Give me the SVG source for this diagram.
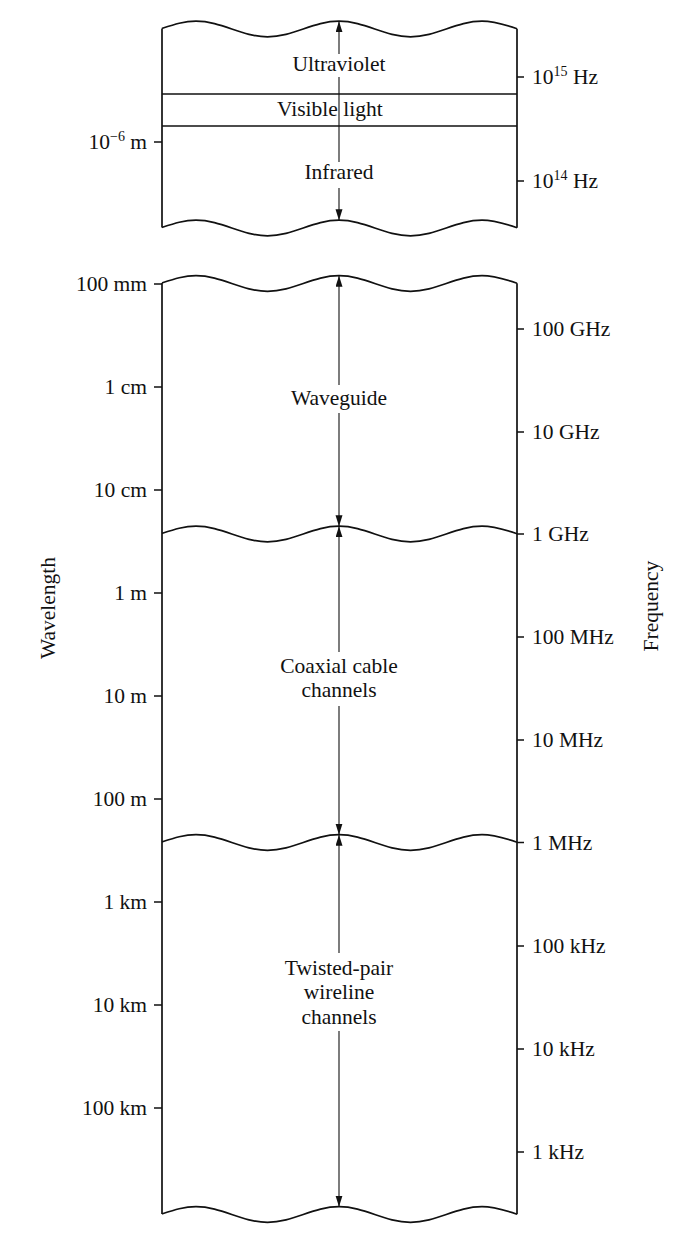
<svg xmlns="http://www.w3.org/2000/svg" width="675" height="1239" viewBox="0 0 675 1239">
<style>
.o{fill:none;stroke:#111;stroke-width:1.7}
.t{fill:none;stroke:#111;stroke-width:1.3}
.a{fill:none;stroke:#111;stroke-width:1.1}
text{font-family:"Liberation Serif","Times New Roman",serif;font-size:21.5px;fill:#111}
.m{text-anchor:middle}
.e{text-anchor:end}
</style>
<defs>
<path id="wave" class="o" d="M162,-0.6 C174,-4.5 184,-7.8 196,-7.8 C222,-7.8 241.5,7.8 267.5,7.8 C293.5,7.8 313,-7.8 339,-7.8 C365,-7.8 384.5,7.8 410.5,7.8 C436.5,7.8 456,-7.8 482,-7.8 C494,-7.8 505,-4.3 517,-0.3"/>
<marker id="ah" markerUnits="userSpaceOnUse" markerWidth="12" markerHeight="8" refX="11" refY="3.5" orient="auto">
<path d="M0,0 L11,3.5 L0,7 z" fill="#111"/>
</marker>
</defs>
<rect width="675" height="1239" fill="#fff"/>

<g id="optical-band">
<use href="#wave" y="29"/>
<use href="#wave" y="228"/>
<line class="o" x1="162" y1="28.4" x2="162" y2="227.4"/>
<line class="o" x1="517" y1="28.7" x2="517" y2="227.7"/>
<line class="o" x1="162" y1="94" x2="517" y2="94"/>
<line class="o" x1="162" y1="126" x2="517" y2="126"/>
<text class="m" x="339" y="71">Ultraviolet</text>
<text x="277" y="116">Visible light</text>
<text class="m" x="339" y="179">Infrared</text>
</g>

<g id="waveguide">
<use href="#wave" y="283.5"/>
<text class="m" x="339" y="405">Waveguide</text>
</g>

<g id="coaxial">
<use href="#wave" y="534"/>
<text class="m" x="339" y="673">Coaxial cable</text>
<text class="m" x="339" y="697">channels</text>
</g>

<g id="twisted-pair">
<use href="#wave" y="842.5"/>
<use href="#wave" y="1214.5"/>
<text class="m" x="339" y="975">Twisted-pair</text>
<text class="m" x="339" y="999">wireline</text>
<text class="m" x="339" y="1024">channels</text>
</g>

<g id="band-edges">
<line class="o" x1="162" y1="282.9" x2="162" y2="1213.9"/>
<line class="o" x1="517" y1="283.2" x2="517" y2="1214.2"/>
</g>

<g id="wavelength-axis">
<path class="t" d="M154,142H162 M154,284H162 M154,387H162 M154,490H162 M154,593H162 M154,696H162 M154,799H162 M154,902H162 M154,1005H162 M154,1108H162"/>
<text class="e" x="147" y="149">10<tspan font-size="14" dy="-8">−6</tspan><tspan dy="8"> m</tspan></text>
<text class="e" x="147" y="291">100 mm</text>
<text class="e" x="147" y="394">1 cm</text>
<text class="e" x="147" y="497">10 cm</text>
<text class="e" x="147" y="600">1 m</text>
<text class="e" x="147" y="703">10 m</text>
<text class="e" x="147" y="806">100 m</text>
<text class="e" x="147" y="909">1 km</text>
<text class="e" x="147" y="1012">10 km</text>
<text class="e" x="147" y="1115">100 km</text>
<text class="m" transform="translate(55,608) rotate(-90)">Wavelength</text>
</g>

<g id="frequency-axis">
<path class="t" d="M517,77H524 M517,181H524 M517,329H524 M517,432H524 M517,534H524 M517,637H524 M517,740H524 M517,842.5H524 M517,946H524 M517,1049H524 M517,1152H524"/>
<text x="532" y="84">10<tspan font-size="14" dy="-8">15</tspan><tspan dy="8"> Hz</tspan></text>
<text x="532" y="188">10<tspan font-size="14" dy="-8">14</tspan><tspan dy="8"> Hz</tspan></text>
<text x="532" y="336">100 GHz</text>
<text x="532" y="439">10 GHz</text>
<text x="532" y="541">1 GHz</text>
<text x="532" y="644">100 MHz</text>
<text x="532" y="747">10 MHz</text>
<text x="532" y="849.5">1 MHz</text>
<text x="532" y="953">100 kHz</text>
<text x="532" y="1056">10 kHz</text>
<text x="532" y="1159">1 kHz</text>
<text class="m" transform="translate(658,606) rotate(-90)">Frequency</text>
</g>

<g id="connectors">
<line class="a" x1="339" y1="54" x2="339" y2="21.2" marker-end="url(#ah)"/>
<line class="a" x1="339" y1="77" x2="339" y2="162"/>
<line class="a" x1="339" y1="188" x2="339" y2="220.2" marker-end="url(#ah)"/>
<line class="a" x1="339" y1="385" x2="339" y2="275.7" marker-end="url(#ah)"/>
<line class="a" x1="339" y1="413" x2="339" y2="526.2" marker-end="url(#ah)"/>
<line class="a" x1="339" y1="652" x2="339" y2="526.2" marker-end="url(#ah)"/>
<line class="a" x1="339" y1="706" x2="339" y2="834.7" marker-end="url(#ah)"/>
<line class="a" x1="339" y1="953" x2="339" y2="834.7" marker-end="url(#ah)"/>
<line class="a" x1="339" y1="1031" x2="339" y2="1206.7" marker-end="url(#ah)"/>
</g>
</svg>
